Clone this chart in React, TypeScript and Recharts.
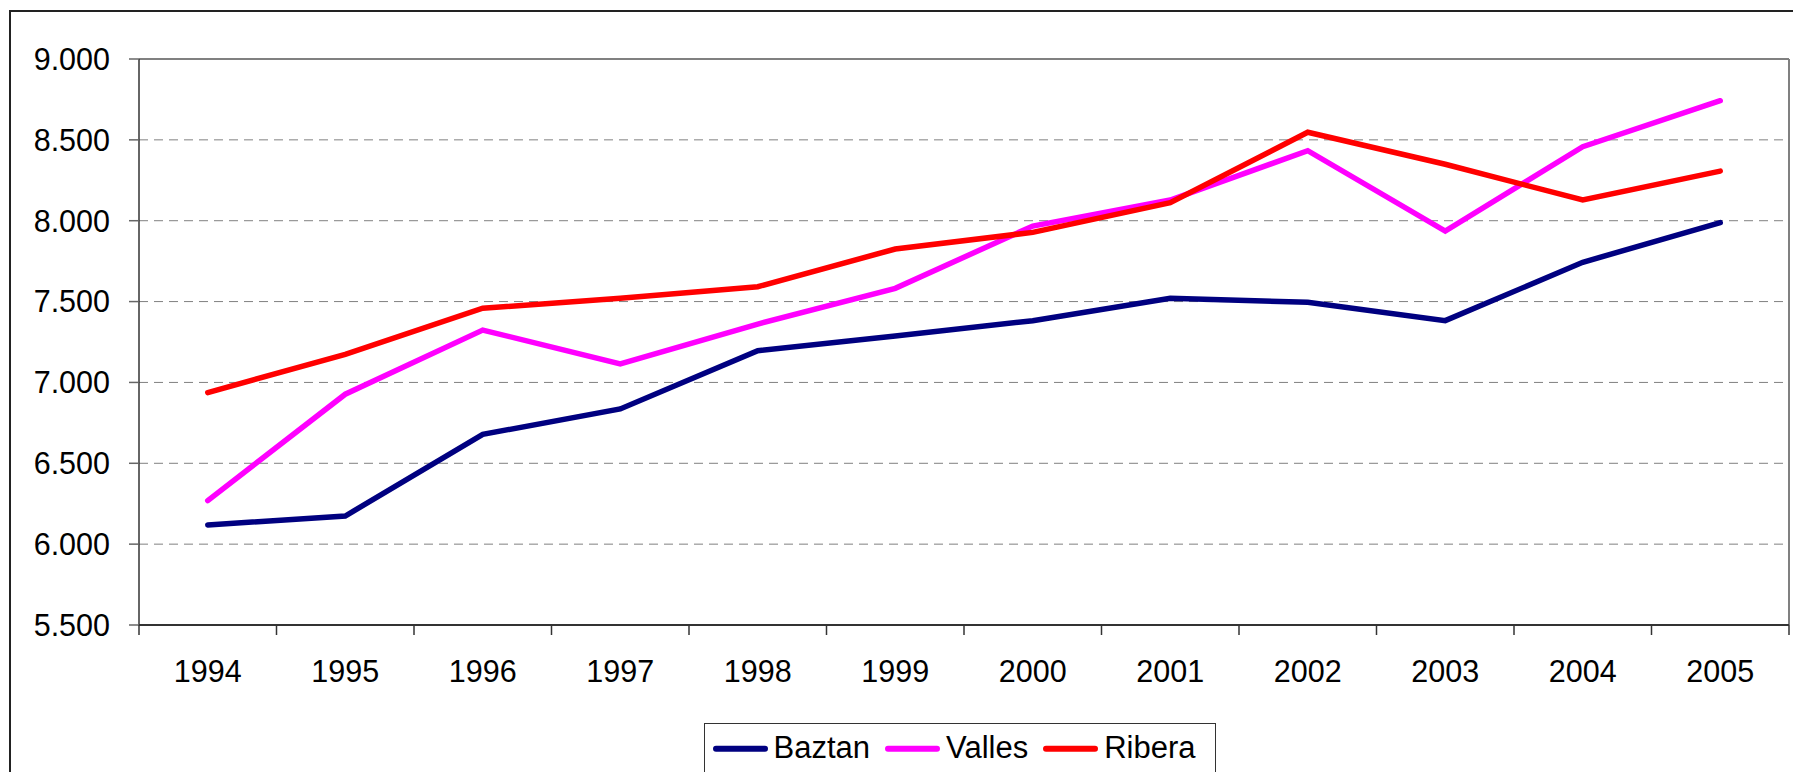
import React from 'react';
import { LineChart, Line, XAxis, YAxis, CartesianGrid, ReferenceLine, Legend } from 'recharts';

const years = [1994, 1995, 1996, 1997, 1998, 1999, 2000, 2001, 2002, 2003, 2004, 2005];
const baztan = [6119, 6174, 6679, 6836, 7196, 7287, 7382, 7520, 7496, 7382, 7743, 7988];
const valles = [6269, 6927, 7324, 7114, 7361, 7582, 7967, 8128, 8433, 7936, 8458, 8742];
const ribera = [6937, 7174, 7459, 7520, 7592, 7825, 7928, 8112, 8547, 8349, 8128, 8307];
const yTicks = [5500, 6000, 6500, 7000, 7500, 8000, 8500, 9000];
const xTicks = [1993.5, 1994, 1994.5, 1995, 1995.5, 1996, 1996.5, 1997, 1997.5, 1998, 1998.5, 1999, 1999.5, 2000, 2000.5, 2001, 2001.5, 2002, 2002.5, 2003, 2003.5, 2004, 2004.5, 2005, 2005.5];
const seriesNames = ['Baztan', 'Valles', 'Ribera'];
const seriesKeys = ['baztan', 'valles', 'ribera'];
const seriesColors = ['#000080', '#FF00FF', '#FF0000'];

const data = years.map((year, i) => ({ year, baztan: baztan[i], valles: valles[i], ribera: ribera[i] }));

const FONT = '"Liberation Sans", Arial, sans-serif';
const X_TICK_SIZE = 10;
const X_TICK_MARGIN = 25;

const fmt = (v: number) => `${Math.floor(v / 1000)}.${String(v % 1000).padStart(3, '0')}`;

const XTick = (props: any) => {
  const { x, y, payload } = props;
  const v = payload.value;
  if (Number.isInteger(v)) {
    return (
      <text x={x} y={y} dy="0.71em" textAnchor="middle" fontSize={30.5} fill="#000" fontFamily={FONT}>
        {v}
      </text>
    );
  }
  return <line x1={x} x2={x} y1={y - X_TICK_MARGIN - X_TICK_SIZE} y2={y - X_TICK_MARGIN} stroke="#333" strokeWidth={1.5} />;
};

const LegendContent = () => (
  <div
    style={{
      width: 512,
      height: 80,
      boxSizing: 'border-box',
      border: '1.5px solid #333',
      background: '#fff',
      display: 'flex',
      alignItems: 'flex-start',
      paddingLeft: 7.5,
      paddingTop: 5.5,
      fontFamily: FONT,
      fontSize: 31,
      lineHeight: '36px',
      color: '#000',
      whiteSpace: 'nowrap',
    }}
  >
    {seriesNames.map((name, i) => (
      <div key={name} style={{ display: 'flex', alignItems: 'flex-start', marginRight: 15 }}>
        <svg width={55} height={36} style={{ marginRight: 6, display: 'block' }}>
          <line x1={3} x2={52} y1={18.7} y2={18.7} stroke={seriesColors[i]} strokeWidth={6} strokeLinecap="round" />
        </svg>
        <span>{name}</span>
      </div>
    ))}
  </div>
);

export default function App() {
  return (
    <div style={{ position: 'absolute', left: 0, top: 0, width: 1793, height: 772, overflow: 'hidden', background: '#fff' }}>
      <div
        style={{
          position: 'absolute',
          left: 9,
          top: 10,
          width: 2000,
          height: 2000,
          border: '2px solid #222',
          boxSizing: 'border-box',
        }}
      />
      <div style={{ position: 'absolute', left: 0, top: 0 }}>
        <LineChart width={1793} height={772} data={data} margin={{ top: 59, right: 4, bottom: 0, left: 0 }} style={{ fontFamily: FONT }}>
          <CartesianGrid horizontal vertical={false} stroke="#808080" strokeDasharray="9 6" />
          <XAxis
            dataKey="year"
            type="number"
            domain={[1993.5, 2005.5]}
            ticks={xTicks}
            interval={0}
            height={147}
            tickSize={X_TICK_SIZE}
            tickMargin={X_TICK_MARGIN}
            tickLine={false}
            tick={<XTick />}
            axisLine={{ stroke: '#333', strokeWidth: 2 }}
            allowDecimals
          />
          <YAxis
            type="number"
            domain={[5500, 9000]}
            ticks={yTicks}
            interval={0}
            width={139}
            tickSize={10}
            tickMargin={19}
            tickFormatter={fmt}
            tick={{ fontSize: 30.5, fill: '#000', fontFamily: FONT }}
            tickLine={{ stroke: '#666', strokeWidth: 1.5 }}
            axisLine={{ stroke: '#333', strokeWidth: 1.5 }}
          />
          <ReferenceLine y={9000} stroke="#808080" strokeWidth={2} ifOverflow="visible" />
          <ReferenceLine x={2005.5} stroke="#808080" strokeWidth={2} ifOverflow="visible" />
          {seriesKeys.map((k, i) => (
            <Line
              key={k}
              type="linear"
              dataKey={k}
              name={seriesNames[i]}
              stroke={seriesColors[i]}
              strokeWidth={5.5}
              dot={false}
              activeDot={false}
              strokeLinecap="round"
              isAnimationActive={false}
            />
          ))}
          <Legend
            verticalAlign="middle"
            align="center"
            layout="horizontal"
            wrapperStyle={{ left: 704, top: 723, width: 512 }}
            content={<LegendContent />}
          />
        </LineChart>
      </div>
    </div>
  );
}
